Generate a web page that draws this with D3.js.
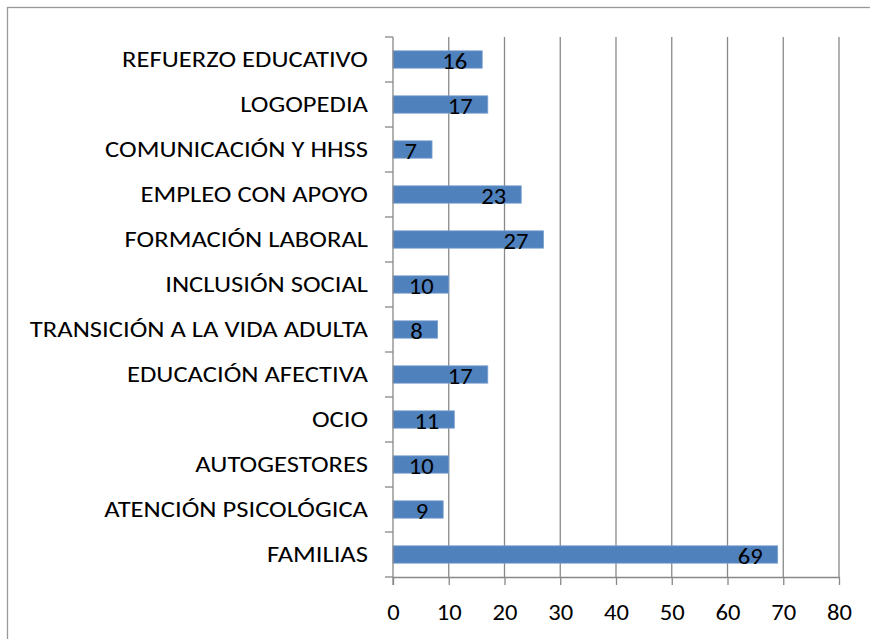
<!DOCTYPE html>
<html>
<head>
<meta charset="utf-8">
<script src="https://cdn.jsdelivr.net/npm/d3@7"></script>
<style>
  body { margin: 0; background: #fff; }
  text { font-family: Carlito, "Open Sans", sans-serif; fill: #000; }
</style>
</head>
<body>
<div id="chart"></div>
<script>
// categories top to bottom and their values
var categories = ["REFUERZO EDUCATIVO", "LOGOPEDIA", "COMUNICACIÓN Y HHSS", "EMPLEO CON APOYO",
                  "FORMACIÓN LABORAL", "INCLUSIÓN SOCIAL", "TRANSICIÓN A LA VIDA ADULTA",
                  "EDUCACIÓN AFECTIVA", "OCIO", "AUTOGESTORES", "ATENCIÓN PSICOLÓGICA", "FAMILIAS"];
var values = [16, 17, 7, 23, 27, 10, 8, 17, 11, 10, 9, 69];
var xTicks = [0, 10, 20, 30, 40, 50, 60, 70, 80];

var W = 870, H = 639;
var margin = {top: 37, right: 31, bottom: 62, left: 393};
var width = W - margin.left - margin.right,
    height = H - margin.top - margin.bottom;
// the original picture is a bit wider than tall, so the text is stretched
var catStretch = 1.21, numStretch = 1.07;

var data = categories.map(function(c, i) { return {cat: c, value: values[i]}; });

var svg = d3.select("#chart").append("svg")
    .attr("width", W)
    .attr("height", H);

// outer chart border
svg.append("rect")
   .attr("x", 7.5).attr("y", 7.5)
   .attr("width", W).attr("height", H)
   .attr("fill", "none")
   .attr("stroke", "#999")
   .attr("stroke-width", 1.3);

var g = svg.append("g")
   .attr("transform", "translate(" + margin.left + "," + margin.top + ")");

var xScale = d3.scaleLinear().domain([0, 80]).range([0, width]);
var yBand = d3.scaleBand().domain(categories).range([0, height]);
var yBar = d3.scaleBand().domain(categories).range([0, height])
    .paddingInner(0.615).paddingOuter(0.3075);

// vertical gridlines
g.selectAll(".grid")
 .data(xTicks.slice(1))
 .enter().append("line")
 .attr("class", "grid")
 .attr("x1", function(d) { return xScale(d); })
 .attr("x2", function(d) { return xScale(d); })
 .attr("y1", 0).attr("y2", height)
 .attr("stroke", "#888").attr("stroke-width", 1.3);

// bars
g.selectAll(".bar")
 .data(data)
 .enter().append("rect")
 .attr("class", "bar")
 .attr("x", 0)
 .attr("y", function(d) { return yBar(d.cat); })
 .attr("width", function(d) { return xScale(d.value); })
 .attr("height", yBar.bandwidth())
 .attr("fill", "#4F81BD")
 .attr("stroke", "#7A9FCF")
 .attr("stroke-width", 0.8);

// value labels
g.selectAll(".lbl")
 .data(data)
 .enter().append("text")
 .attr("class", "lbl")
 .attr("transform", function(d) {
     return "translate(" + (xScale(d.value) - 15) + "," + (yBar(d.cat) + yBar.bandwidth() + 1) + ") scale(" + numStretch + ",1)";
 })
 .attr("text-anchor", "end")
 .style("font-size", "23px")
 .text(function(d) { return d.value; });

// x axis
var xAxis = g.append("g")
 .attr("transform", "translate(0," + height + ")")
 .call(d3.axisBottom(xScale).tickValues(xTicks).tickSize(8).tickSizeOuter(0));
xAxis.select(".domain").attr("stroke", "#888").attr("stroke-width", 1.3);
xAxis.selectAll(".tick line").attr("stroke", "#888").attr("stroke-width", 1.3);
xAxis.selectAll("text")
 .attr("y", 0).attr("dy", null)
 .attr("transform", "translate(0,43) scale(" + numStretch + ",1)")
 .style("font-size", "23px").attr("fill", "#000");

// y axis, ticks on band boundaries
var yAxis = g.append("g");
yAxis.append("line")
 .attr("x1", 0).attr("x2", 0).attr("y1", 0).attr("y2", height + 8)
 .attr("stroke", "#888").attr("stroke-width", 1.3);
var bounds = categories.map(function(c) { return yBand(c); }).concat([height]);
yAxis.selectAll(".ytick")
 .data(bounds)
 .enter().append("line")
 .attr("x1", -8).attr("x2", 0)
 .attr("y1", function(d) { return d; }).attr("y2", function(d) { return d; })
 .attr("stroke", "#888").attr("stroke-width", 1.3);
yAxis.selectAll(".ylab")
 .data(categories)
 .enter().append("text")
 .attr("transform", function(d) {
     return "translate(-25," + (yBand(d) + yBand.bandwidth() / 2) + ") scale(" + catStretch + ",1)";
 })
 .attr("dy", "0.35em")
 .attr("text-anchor", "end")
 .style("font-size", "22px")
 .text(function(d) { return d; });
</script>
</body>
</html>
